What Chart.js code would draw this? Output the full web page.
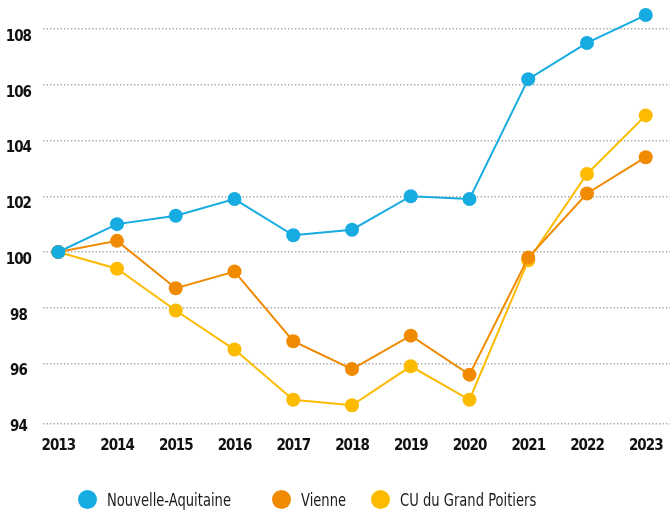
<!DOCTYPE html>
<html>
<head>
<meta charset="utf-8">
<script src="https://cdn.jsdelivr.net/npm/chart.js@4"></script>
<style>
  html, body { margin: 0; padding: 0; background: #fff; }
  #wrap { position: relative; width: 670px; height: 511px; }
  #legend { position: absolute; left: 0; top: 487px; width: 670px; height: 24px; }
  .item { position: absolute; top: 0; display: flex; align-items: center; height: 24px;
          font-family: 'DejaVu Sans Condensed', sans-serif; font-size: 18px; color: #1a1a1a; white-space: nowrap; }
  .dot { width: 19px; height: 19px; border-radius: 50%; margin-right: 10px; flex: none; }
  .txt { display: inline-block; transform: scaleX(0.81); transform-origin: left center; }
</style>
</head>
<body>
<div id="wrap">
  <canvas id="chart" width="670" height="511"></canvas>
  <div id="legend"></div>
</div>
<script>
// data (index, 2013 = 100)
const years = [2013, 2014, 2015, 2016, 2017, 2018, 2019, 2020, 2021, 2022, 2023];
const nouvelleAquitaine = [100, 101.0, 101.3, 101.9, 100.6, 100.8, 102.0, 101.9, 106.2, 107.5, 108.5];
const vienne = [100, 100.4, 98.7, 99.3, 96.8, 95.8, 97.0, 95.6, 99.8, 102.1, 103.4];
const cuGrandPoitiers = [100, 99.4, 97.9, 96.5, 94.7, 94.5, 95.9, 94.7, 99.7, 102.8, 104.9];
const yTicks = [94, 96, 98, 100, 102, 104, 106, 108];

const seriesNames = ['Nouvelle-Aquitaine', 'Vienne', 'CU du Grand Poitiers'];
const seriesColors = ['#16abe1', '#f08a00', '#fdbb00'];
const legendLeft = [78, 272, 371];

const FONT = "'DejaVu Sans Condensed', sans-serif";
const GRID = '#a8a8a8';

const toPoints = arr => arr.map((v, i) => ({ x: years[i], y: v }));

const datasets = [nouvelleAquitaine, vienne, cuGrandPoitiers].map((arr, i) => ({
  label: seriesNames[i],
  data: toPoints(arr),
  borderColor: seriesColors[i],
  backgroundColor: seriesColors[i],
  borderWidth: 2,
  pointRadius: 7,
  pointHoverRadius: 7,
  pointBorderWidth: 0,
  tension: 0,
  clip: false
}));

// squeeze the axis text a little, the original uses a condensed face
const tightText = {
  id: 'tightText',
  beforeUpdate: c => { c.ctx.letterSpacing = '-1px'; },
  beforeDraw: c => { c.ctx.letterSpacing = '-1px'; }
};

const chart = new Chart(document.getElementById('chart'), {
  type: 'line',
  data: { datasets },
  plugins: [tightText],
  options: {
    responsive: false,
    animation: false,
    events: [],
    layout: { autoPadding: false, padding: { top: 0, right: 0, bottom: 57, left: 0 } },
    plugins: { legend: { display: false }, tooltip: { enabled: false } },
    scales: {
      x: {
        type: 'linear',
        min: 2012.74,
        max: 2023.413,
        grid: { display: false, drawTicks: false },
        border: { display: false },
        ticks: {
          padding: 13,
          color: '#111',
          font: { family: FONT, size: 15, weight: 'bold' },
          callback: v => String(v)
        },
        afterBuildTicks: s => { s.ticks = years.map(v => ({ value: v })); },
        afterFit: s => { s.height = 30; s.paddingLeft = 0; s.paddingRight = 0; }
      },
      y: {
        min: 93.83,
        max: 109.04,
        grid: {
          drawTicks: false,
          lineWidth: 1.4,
          // the 94 line sits on the bottom edge of the plot in the original
          color: c => (c.tick && c.tick.value === 94) ? 'rgba(0,0,0,0)' : GRID
        },
        border: { display: false, dash: [1.4, 2.1] },
        ticks: {
          padding: 12,
          crossAlign: 'center',
          labelOffset: 8,
          color: '#111',
          font: { family: FONT, size: 15, weight: 'bold' },
          callback: v => yTicks.includes(v) ? String(v) : ''
        },
        afterBuildTicks: s => { s.ticks = [{ value: s.min }].concat(yTicks.map(v => ({ value: v }))); },
        afterFit: s => { s.width = 43; s.paddingTop = 0; s.paddingBottom = 0; }
      }
    }
  }
});

// legend
const legendEl = document.getElementById('legend');
seriesNames.forEach((name, i) => {
  const item = document.createElement('div');
  item.className = 'item';
  item.style.left = legendLeft[i] + 'px';
  const dot = document.createElement('span');
  dot.className = 'dot';
  dot.style.background = seriesColors[i];
  const txt = document.createElement('span');
  txt.className = 'txt';
  txt.textContent = name;
  item.appendChild(dot);
  item.appendChild(txt);
  legendEl.appendChild(item);
});
</script>
</body>
</html>
